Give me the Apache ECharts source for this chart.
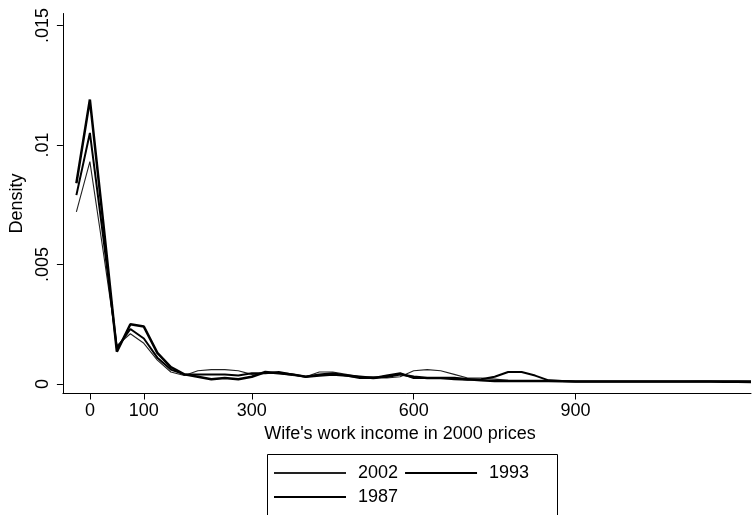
<!DOCTYPE html>
<html>
<head>
<meta charset="utf-8">
<script src="https://cdn.jsdelivr.net/npm/echarts@6/dist/echarts.min.js"></script>
<style>
  html, body { margin: 0; padding: 0; background: #fff; }
  #chart { width: 752px; height: 515px; }
</style>
</head>
<body>
<div id="chart"></div>
<script>
// Kernel density estimates of wife's work income, evaluated every 25 units
const incomeGrid = [];
for (let v = -25; v <= 1225; v += 25) incomeGrid.push(v);

const density1987 = [
  0.0084, 0.0119, 0.0067, 0.00135, 0.0025, 0.0024, 0.0013, 0.0007, 0.0004,
  0.0003, 0.0002, 0.00025, 0.0002, 0.0003, 0.0005, 0.00045, 0.0004, 0.0003,
  0.00035, 0.0004, 0.00035, 0.0003, 0.00025, 0.0003, 0.0004, 0.0003, 0.00025,
  0.00025, 0.00025, 0.0002, 0.00015, 0.00012, 0.00012, 0.00012, 0.00012, 0.00012,
  0.00011, 0.0001, 0.0001, 0.0001, 0.0001, 0.0001, 0.0001, 0.0001, 0.0001,
  0.0001, 0.0001, 0.0001, 0.00009, 0.00009, 0.00008
];
const density1993 = [
  0.0079, 0.0105, 0.0061, 0.0015, 0.0023, 0.0019, 0.0011, 0.0006, 0.0004,
  0.0004, 0.0004, 0.0004, 0.00035, 0.00045, 0.00045, 0.0005, 0.0004, 0.0003,
  0.0004, 0.00045, 0.00035, 0.00025, 0.00025, 0.00035, 0.00045, 0.00025, 0.00025,
  0.00025, 0.0002, 0.00018, 0.0002, 0.0003, 0.0005, 0.0005, 0.00035, 0.00015,
  0.00012, 0.0001, 0.0001, 0.0001, 0.0001, 0.0001, 0.0001, 0.0001, 0.0001,
  0.0001, 0.0001, 0.0001, 0.0001, 0.0001, 0.0001
];
const density2002 = [
  0.0072, 0.0093, 0.0055, 0.0016, 0.0021, 0.0017, 0.0010, 0.0005, 0.00035,
  0.00055, 0.0006, 0.0006, 0.00055, 0.0004, 0.00045, 0.00045, 0.00035, 0.0003,
  0.0005, 0.0005, 0.0004, 0.0003, 0.0003, 0.00025, 0.0003, 0.00055, 0.0006,
  0.00055, 0.0004, 0.00025, 0.00025, 0.0002, 0.00015, 0.00013, 0.00012, 0.00012,
  0.00011, 0.0001, 0.0001, 0.0001, 0.0001, 0.0001, 0.0001, 0.0001, 0.0001,
  0.0001, 0.00011, 0.00011, 0.00012, 0.00012, 0.00012
];

const yTickValues = [0, 0.005, 0.01, 0.015];
const yTickLabels = ['0', '.005', '.01', '.015'];
const xTickValues = [0, 100, 300, 600, 900];

const pairs = ys => incomeGrid.map((x, i) => [x, ys[i]]);
const FONT = '"Liberation Sans", Arial, sans-serif';

const chart = echarts.init(document.getElementById('chart'), null, { renderer: 'canvas' });
chart.setOption({
  backgroundColor: '#fff',
  animation: false,
  textStyle: { fontFamily: FONT, color: '#000' },
  grid: { left: 61, right: 1, top: 13.5, bottom: 121.5, containLabel: false },
  xAxis: {
    type: 'value',
    min: -50,
    max: 1225,
    name: "Wife's work income in 2000 prices",
    nameLocation: 'middle',
    nameGap: 27,
    nameTextStyle: { fontSize: 18, color: '#000', fontFamily: FONT, padding: [0, 14, 0, 0] },
    axisLine: { show: true, onZero: false, lineStyle: { color: '#000', width: 1 } },
    axisTick: { show: true, length: 6, customValues: xTickValues, lineStyle: { color: '#000' } },
    axisLabel: { customValues: xTickValues, fontSize: 18, color: '#000', margin: 9, fontFamily: FONT },
    splitLine: { show: false }
  },
  yAxis: {
    type: 'value',
    min: -0.0004,
    max: 0.0155,
    name: 'Density',
    nameLocation: 'middle',
    nameRotate: 90,
    nameGap: 34,
    nameTextStyle: { fontSize: 18, color: '#000', fontFamily: FONT },
    axisLine: { show: true, onZero: false, lineStyle: { color: '#000', width: 1 } },
    axisTick: { show: true, length: 6, customValues: yTickValues, lineStyle: { color: '#000' } },
    axisLabel: {
      customValues: yTickValues,
      rotate: 90,
      fontSize: 18,
      color: '#000',
      margin: 11,
      fontFamily: FONT,
      formatter: v => yTickLabels[yTickValues.findIndex(t => Math.abs(t - v) < 1e-9)]
    },
    splitLine: { show: false }
  },
  legend: {
    left: 265,
    top: 464,
    width: 320,
    orient: 'horizontal',
    itemWidth: 72,
    itemHeight: 12,
    itemGap: 6,
    padding: [0, 0, 0, 8],
    data: ['2002', '1993', '1987'],
    itemStyle: { opacity: 0 },
    textStyle: { fontSize: 18, color: '#000', fontFamily: FONT, padding: [0, 22, 0, 7] }
  },
  graphic: [{
    type: 'rect',
    left: 265,
    top: 452,
    shape: { width: 290, height: 80 },
    style: { fill: 'none', stroke: '#000', lineWidth: 1 },
    silent: true
  }],
  series: [
    { name: '2002', type: 'line', data: pairs(density2002), symbol: 'none', smooth: false,
      lineStyle: { color: '#222', width: 1.1 }, itemStyle: { color: '#222' } },
    { name: '1993', type: 'line', data: pairs(density1993), symbol: 'none', smooth: false,
      lineStyle: { color: '#000', width: 2 }, itemStyle: { color: '#000' } },
    { name: '1987', type: 'line', data: pairs(density1987), symbol: 'none', smooth: false,
      lineStyle: { color: '#000', width: 2.5 }, itemStyle: { color: '#000' } }
  ]
});
</script>
</body>
</html>
